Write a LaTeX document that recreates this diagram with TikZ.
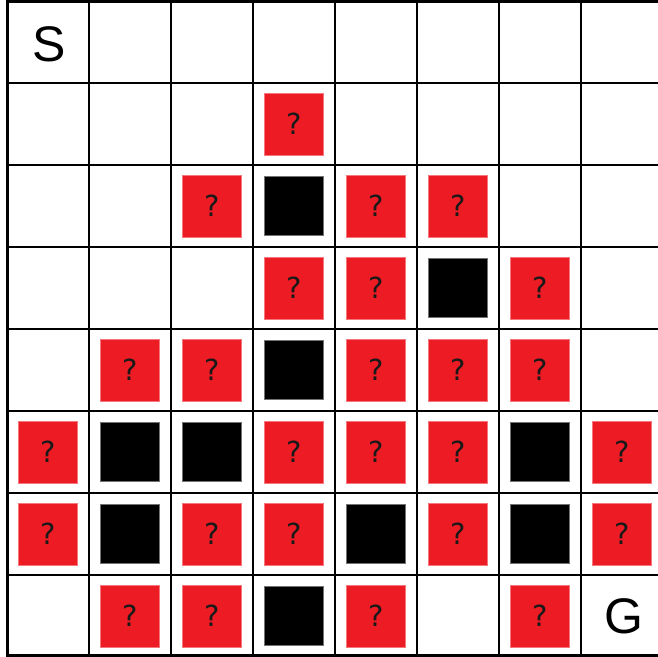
\documentclass[tikz,border=0pt]{standalone}
\usepackage{fontspec}
\setmainfont{Liberation Sans}
\newfontfamily\qfont{DejaVu Sans}
\definecolor{qred}{HTML}{ED1C24}
\begin{document}
\begin{tikzpicture}[x=1pt,y=-1pt,
  redsq/.style={fill=qred,draw=qred!60!white,line width=0.4pt,minimum width=59pt,minimum height=62pt,inner sep=0pt,font=\qfont\fontsize{29}{29}\selectfont,text=black!90},
  blacksq/.style={fill=black,draw=black!55,line width=0.8pt,minimum width=59pt,minimum height=59pt,inner sep=0pt},
  letter/.style={font=\fontsize{50}{50}\selectfont,inner sep=0pt}]
\useasboundingbox (0,0) rectangle (657,657);
\fill[white] (0,0) rectangle (657,657);
% grid
\foreach \i in {1,...,7} {
  \draw[line width=2.2pt] ({7+82*\i},1) -- ({7+82*\i},655);
  \draw[line width=2.2pt] (7,{1+82*\i}) -- (670,{1+82*\i});
}
\draw[line width=3pt] (670,1) -- (7,1) -- (7,655) -- (670,655);
\draw[line width=3pt] (664,1) -- (664,655);
% labels
\node[letter] (S) at (49,44) {S};
\node[letter] (G) at (624,616) {G};
% squares: centre of column c = 48+82c, row r = 42+82r
\foreach \c/\r in {3/1, 2/2,4/2,5/2, 3/3,4/3,6/3, 1/4,2/4,4/4,5/4,6/4,
  0/5,3/5,4/5,5/5,7/5, 0/6,2/6,3/6,5/6,7/6, 1/7,2/7,4/7,6/7}
  \node[redsq] (r\c\r) at ({48+82*\c},{42+82*\r}) {\raisebox{-1.5pt}{?}};
\foreach \c/\r in {3/2, 5/3, 3/4, 1/5,2/5,6/5, 1/6,4/6,6/6, 3/7}
  \node[blacksq] (b\c\r) at ({48+82*\c},{42+82*\r}) {};
\end{tikzpicture}
\end{document}
